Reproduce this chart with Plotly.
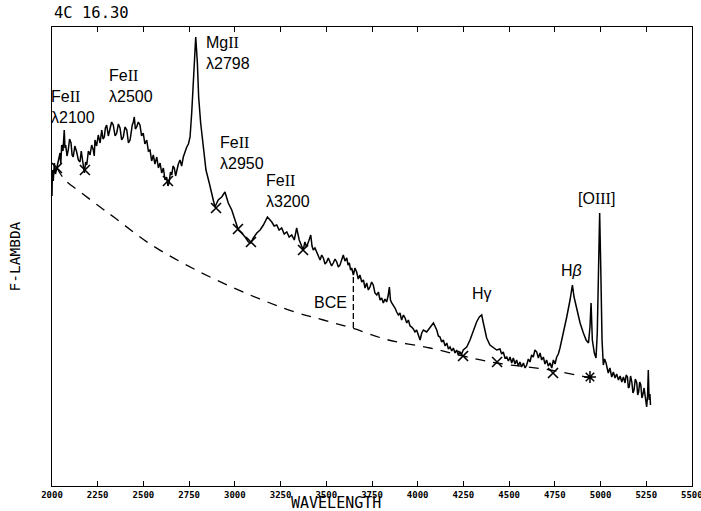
import plotly.graph_objects as go

# ---- data (arbitrary flux units) ----
wave = [2000, 2002, 2007, 2013, 2019, 2026, 2035, 2044, 2048, 2053, 2060, 2067, 2071, 2075, 2082, 2089,
        2096, 2104, 2110, 2116, 2125, 2135, 2144, 2153, 2160, 2166, 2171, 2177, 2184, 2190, 2199, 2208,
        2217, 2226, 2231, 2235, 2244, 2253, 2263, 2272, 2279, 2286, 2292, 2299, 2308, 2317, 2326, 2335,
        2345, 2354, 2363, 2372, 2381, 2390, 2399, 2409, 2418, 2427, 2433, 2439, 2445, 2450, 2456, 2463,
        2472, 2481, 2490, 2499, 2508, 2518, 2527, 2536, 2545, 2554, 2563, 2573, 2582, 2591, 2600, 2609,
        2618, 2627, 2634, 2640, 2648, 2655, 2662, 2669, 2676, 2682, 2691, 2700, 2709, 2718, 2727, 2737,
        2746, 2755, 2764, 2773, 2780, 2786, 2795, 2802, 2813, 2827, 2842, 2860, 2873, 2891, 2909, 2928,
        2946, 2964, 2983, 3001, 3019, 3037, 3056, 3074, 3087, 3101, 3120, 3138, 3156, 3178, 3202, 3215,
        3229, 3242, 3256, 3270, 3284, 3297, 3311, 3325, 3338, 3352, 3365, 3374, 3383, 3392, 3404, 3415,
        3422, 3429, 3438, 3448, 3457, 3466, 3475, 3484, 3493, 3502, 3511, 3520, 3529, 3538, 3548, 3557,
        3566, 3575, 3584, 3593, 3602, 3612, 3619, 3626, 3633, 3639, 3648, 3657, 3666, 3675, 3684, 3694,
        3703, 3712, 3721, 3730, 3739, 3748, 3757, 3766, 3776, 3785, 3794, 3803, 3812, 3821, 3830, 3838,
        3845, 3851, 3858, 3867, 3876, 3885, 3894, 3903, 3912, 3922, 3931, 3940, 3949, 3958, 3967, 3976,
        3985, 3994, 4003, 4013, 4022, 4031, 4049, 4067, 4086, 4104, 4113, 4122, 4131, 4140, 4150, 4159,
        4168, 4177, 4186, 4195, 4204, 4213, 4222, 4231, 4240, 4249, 4268, 4286, 4304, 4322, 4337, 4350,
        4359, 4377, 4395, 4414, 4432, 4450, 4459, 4468, 4477, 4487, 4496, 4505, 4514, 4523, 4532, 4541,
        4550, 4559, 4568, 4578, 4587, 4596, 4605, 4614, 4623, 4632, 4641, 4651, 4660, 4669, 4678, 4687,
        4696, 4705, 4714, 4724, 4733, 4742, 4751, 4760, 4769, 4778, 4797, 4815, 4833, 4846, 4855, 4870,
        4888, 4906, 4921, 4934, 4942, 4948, 4955, 4966, 4975, 4982, 4990, 4995, 5001, 5008, 5015, 5022,
        5030, 5036, 5042, 5051, 5061, 5070, 5079, 5088, 5098, 5107, 5116, 5125, 5134, 5140, 5147, 5152,
        5157, 5164, 5171, 5177, 5183, 5190, 5198, 5203, 5208, 5214, 5220, 5226, 5231, 5238, 5245, 5252,
        5257, 5261, 5264, 5266, 5270, 5273]
flux = [290, 316, 305, 323, 312, 318, 328, 333, 322, 341, 335, 356, 338, 341, 330, 336,
        347, 343, 331, 329, 340, 334, 326, 324, 335, 328, 318, 313, 324, 321, 335, 331,
        341, 336, 330, 346, 340, 351, 343, 356, 347, 349, 358, 361, 350, 356, 364, 361,
        350, 353, 362, 358, 346, 349, 359, 356, 343, 346, 355, 361, 364, 369, 357, 359,
        364, 361, 350, 353, 342, 346, 335, 336, 325, 331, 322, 329, 318, 323, 313, 318,
        306, 309, 300, 303, 314, 311, 320, 318, 310, 316, 322, 326, 320, 329, 334, 339,
        342, 349, 373, 406, 436, 449, 423, 389, 363, 339, 316, 303, 293, 279, 286, 289,
        294, 283, 276, 266, 256, 253, 249, 244, 243, 248, 253, 256, 261, 269, 264, 260,
        261, 256, 258, 252, 254, 249, 251, 246, 258, 246, 239, 236, 244, 239, 245, 251,
        240, 236, 238, 233, 229, 226, 231, 228, 222, 224, 228, 224, 220, 223, 227, 224,
        219, 221, 227, 231, 225, 228, 221, 223, 216, 218, 211, 218, 214, 207, 211, 204,
        206, 198, 203, 196, 199, 204, 201, 193, 191, 194, 186, 188, 183, 187, 184, 190,
        199, 186, 183, 181, 178, 174, 171, 173, 166, 171, 168, 163, 166, 160, 159, 157,
        154, 156, 151, 146, 153, 156, 154, 158, 163, 156, 150, 149, 144, 146, 140, 143,
        137, 139, 135, 138, 133, 136, 131, 134, 132, 136, 139, 146, 156, 164, 169, 171,
        163, 148, 141, 138, 136, 137, 132, 134, 128, 129, 125, 129, 123, 128, 122, 126,
        120, 124, 119, 123, 118, 121, 127, 124, 131, 129, 136, 134, 128, 133, 126, 129,
        122, 126, 120, 123, 118, 126, 122, 129, 132, 138, 153, 169, 186, 201, 189, 176,
        163, 153, 146, 143, 159, 183, 146, 133, 128, 153, 236, 273, 219, 146, 121, 127,
        123, 116, 113, 118, 109, 114, 108, 112, 106, 110, 104, 109, 103, 111, 109, 98,
        99, 110, 104, 93, 96, 107, 103, 91, 94, 104, 101, 88, 91, 98, 86, 79,
        90, 116, 95, 86, 92, 81]

cont_wave = [2027, 2071, 2162, 2263, 2345, 2536, 2809, 3083, 3329, 3484, 3639, 3840, 4067, 4249, 4432, 4724, 4942, 4982]
cont_flux = [318, 306, 293, 279, 268, 242, 214, 191, 174, 166, 158, 146, 138, 130, 123, 116, 108, 106]

mark_wave = [2027, 2180, 2634, 2897, 3017, 3088, 3373, 4248, 4434, 4740]
mark_flux = [318, 316, 305, 278, 257, 244, 236, 130, 124, 113]
star_wave = [4942]
star_flux = [109]

bce_wave = [3648, 3648]
bce_flux = [158, 211]

ROM = "<span style='font-family:Liberation Serif'>{}</span>"
line_labels = [
    ("Fe" + ROM.format("II") + "<br>λ2100", 2115, 379),
    ("Fe" + ROM.format("II") + "<br>λ2500", 2430, 400),
    ("Mg" + ROM.format("II") + "<br>λ2798", 2960, 433),
    ("Fe" + ROM.format("II") + "<br>λ2950", 3040, 333),
    ("Fe" + ROM.format("II") + "<br>λ3200", 3290, 295),
    ("BCE", 3525, 184),
    ("Hγ", 4353, 193),
    ("H<i>β</i>", 4840, 216),
    ("[O" + ROM.format("III") + "]", 4975, 288),
]

tick_vals = [2000, 2250, 2500, 2750, 3000, 3250, 3500, 3750, 4000, 4250, 4500, 4750, 5000, 5250, 5500]
edge_tick = 5500

tick_font = dict(family="DejaVu Sans Mono", size=9, color="black", weight="bold")

fig = go.Figure()
fig.add_trace(go.Scatter(x=cont_wave, y=cont_flux, mode="lines", line_shape="spline",
                         line=dict(color="black", width=1.3, dash="10px,8px"), hoverinfo="skip"))
fig.add_trace(go.Scatter(x=bce_wave, y=bce_flux, mode="lines",
                         line=dict(color="black", width=1.3, dash="6px,3px"), hoverinfo="skip"))
fig.add_trace(go.Scatter(x=wave, y=flux, mode="lines",
                         line=dict(color="black", width=1.5)))
fig.add_trace(go.Scatter(x=mark_wave, y=mark_flux, mode="markers",
                         marker=dict(symbol="x-thin-open", size=10, color="black",
                                     line=dict(color="black", width=1.6))))
fig.add_trace(go.Scatter(x=star_wave, y=star_flux, mode="markers",
                         marker=dict(symbol="asterisk-open", size=10, color="black",
                                     line=dict(color="black", width=1.5))))

for txt, xx, yy in line_labels:
    fig.add_annotation(x=xx, y=yy, text=txt, showarrow=False, align="left",
                       font=dict(family="Liberation Sans", size=16, color="black"))

fig.update_layout(
    width=701, height=511,
    margin=dict(l=52, r=9, t=27, b=25),
    paper_bgcolor="white", plot_bgcolor="white",
    showlegend=False,
    xaxis=dict(range=[2000, 5500], tickvals=tick_vals,
               ticktext=[str(v) if v != edge_tick else "" for v in tick_vals],
               ticks="inside", ticklen=5, tickcolor="black", tickwidth=1,
               showline=True, linecolor="black", linewidth=1, mirror="ticks",
               showgrid=False, zeroline=False, automargin=False,
               tickfont=tick_font),
    yaxis=dict(range=[0, 459], showticklabels=False, ticks="",
               showline=True, linecolor="black", linewidth=1, mirror=True,
               showgrid=False, zeroline=False, automargin=False),
)
# last tick label sits on the right edge and is clipped by the page, as in the reference
fig.add_annotation(x=edge_tick, xref="x", y=0, yref="paper", yanchor="top", yshift=-2,
                   text=str(edge_tick), showarrow=False, font=tick_font)
fig.add_annotation(xref="paper", yref="paper", x=0, y=1, yshift=3, xanchor="left", yanchor="bottom",
                   text="4C 16.30", showarrow=False,
                   font=dict(family="DejaVu Sans Mono", size=15.5, color="black"))
fig.add_annotation(xref="paper", yref="paper", x=0.444, y=0, yshift=-17, xanchor="center", yanchor="middle",
                   text="WAVELENGTH", showarrow=False,
                   font=dict(family="DejaVu Sans Mono", size=15, color="black"))
fig.add_annotation(xref="paper", yref="paper", x=0, xshift=-38, y=0.5, xanchor="center", yanchor="middle",
                   text="F-LAMBDA", textangle=-90, showarrow=False,
                   font=dict(family="DejaVu Sans Mono", size=14.5, color="black"))

fig.write_html("out.html", config={"displayModeBar": False},
               post_script="document.body.style.margin='0px';")
